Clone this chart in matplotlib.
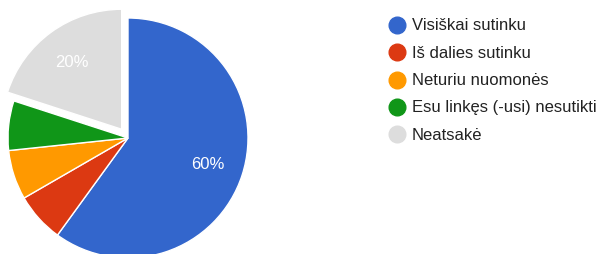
import matplotlib.pyplot as plt
from matplotlib.lines import Line2D

plt.rcParams['font.family'] = ['Liberation Sans', 'DejaVu Sans']

labels = ["Visiškai sutinku", "Iš dalies sutinku", "Neturiu nuomonės",
          "Esu linkęs (-usi) nesutikti", "Neatsakė"]
counts = [9, 1, 1, 1, 3]
colours = ["#3366cc", "#dc3912", "#ff9900", "#109618", "#dddddd"]
explode = [0, 0, 0, 0, 0.09]

W, H = 604, 255
fig = plt.figure(figsize=(W / 100, H / 100), dpi=100)

# pie axes: centre (128,139) px from top-left, radius 120 px
cx, cy, r = 128, 139, 120
ax = fig.add_axes([(cx - r) / W, (H - cy - r) / H, 2 * r / W, 2 * r / H])


def pct(p):
    return f"{p:.0f}%" if p > 10 else ""


wedges, texts, autotexts = ax.pie(
    counts, colors=colours, explode=explode, startangle=90, counterclock=False,
    autopct=pct, pctdistance=0.7, radius=1,
    wedgeprops=dict(edgecolor="white", linewidth=1),
    textprops=dict(color="white", fontsize=12))
for w in wedges:
    w.set_clip_on(False)
ax.set_xlim(-1, 1)
ax.set_ylim(-1, 1)
ax.axis("off")

# legend
y0, dy = 26, 27.3
for i, (lab, col) in enumerate(zip(labels, colours)):
    y = 1 - (y0 + i * dy) / H
    fig.add_artist(Line2D([397 / W], [y], marker="o", markersize=12,
                          color=col, linestyle="none", transform=fig.transFigure))
    fig.text(412 / W, y, lab, fontsize=12, color="#222222", va="center", ha="left")

plt.savefig("out.png", dpi=100)
